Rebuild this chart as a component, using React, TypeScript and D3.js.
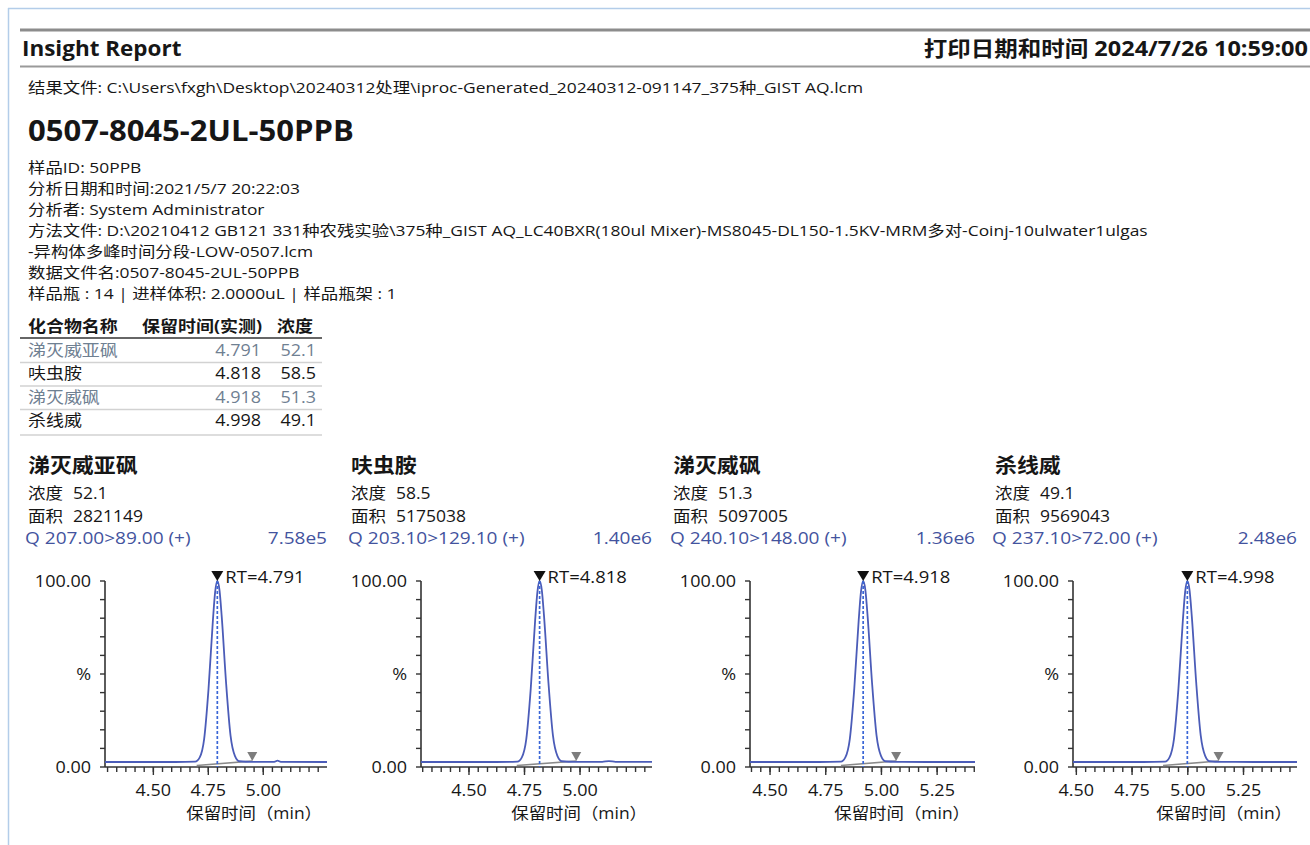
import React from "react";
import * as d3 from "d3";

// ---------- data ----------
const compounds = ["涕灭威亚砜", "呋虫胺", "涕灭威砜", "杀线威"];
const retentionTimes = [4.791, 4.818, 4.918, 4.998];
const concentrations = [52.1, 58.5, 51.3, 49.1];
const areas = [2821149, 5175038, 5097005, 9569043];
const transitions = ["Q 207.00>89.00 (+)", "Q 203.10>129.10 (+)", "Q 240.10>148.00 (+)", "Q 237.10>72.00 (+)"];
const maxIntensities = ["7.58e5", "1.40e6", "1.36e6", "2.48e6"];
const timeDomains: [number, number][] = [[4.28, 5.29], [4.284, 5.324], [4.41, 5.42], [4.485, 5.49]];
const majorTickValues = [[4.5, 4.75, 5.0], [4.5, 4.75, 5.0], [4.5, 4.75, 5.0, 5.25], [4.5, 4.75, 5.0, 5.25]];
const peakStarts = [4.697, 4.715, 4.818, 4.889];
const peakEnds = [4.95, 4.983, 5.066, 5.138];
const yLabels = [{ v: 100, t: "100.00" }, { v: 50, t: "%" }, { v: 0, t: "0.00" }];

const trace1: [number, number][] = [
  [4.28, 2.7], [4.45, 2.7], [4.6, 2.7], [4.69, 2.9], [4.711, 5.2], [4.731, 15], [4.751, 42], [4.771, 79],
  [4.781, 94], [4.791, 100], [4.801, 95], [4.811, 81], [4.831, 45], [4.851, 17], [4.871, 6], [4.891, 3.1],
  [4.95, 2.8], [5.05, 2.8], [5.065, 3.4], [5.08, 2.8], [5.29, 2.7],
];
const trace2: [number, number][] = [
  [4.284, 2.7], [4.45, 2.7], [4.62, 2.7], [4.718, 2.9], [4.738, 5.2], [4.758, 15], [4.778, 42], [4.798, 79],
  [4.808, 94], [4.818, 100], [4.828, 95], [4.838, 81], [4.858, 45], [4.878, 17], [4.898, 6], [4.918, 3.1],
  [4.98, 2.8], [5.1, 2.8], [5.13, 3.2], [5.16, 2.8], [5.324, 2.8],
];
const trace3: [number, number][] = [
  [4.41, 2.7], [4.55, 2.7], [4.72, 2.7], [4.818, 2.9], [4.838, 5.2], [4.858, 15], [4.878, 42], [4.898, 79],
  [4.908, 94], [4.918, 100], [4.928, 95], [4.938, 81], [4.958, 45], [4.978, 17], [4.998, 6], [5.018, 3.1],
  [5.07, 2.8], [5.2, 2.7], [5.42, 2.7],
];
const trace4: [number, number][] = [
  [4.485, 2.7], [4.6, 2.7], [4.8, 2.7], [4.898, 2.9], [4.918, 5.2], [4.938, 15], [4.958, 42], [4.978, 79],
  [4.988, 94], [4.998, 100], [5.008, 95], [5.018, 81], [5.038, 45], [5.058, 17], [5.078, 6], [5.098, 3.1],
  [5.15, 2.8], [5.3, 2.7], [5.49, 2.7],
];
const traces = [trace1, trace2, trace3, trace4];

const resultFile = "结果文件: C:\\Users\\fxgh\\Desktop\\20240312处理\\iproc-Generated_20240312-091147_375种_GIST AQ.lcm";
const infoLines = [
  "样品ID: 50PPB",
  "分析日期和时间:2021/5/7 20:22:03",
  "分析者: System Administrator",
  "方法文件: D:\\20210412 GB121 331种农残实验\\375种_GIST AQ_LC40BXR(180ul Mixer)-MS8045-DL150-1.5KV-MRM多对-Coinj-10ulwater1ulgas",
  "-异构体多峰时间分段-LOW-0507.lcm",
  "数据文件名:0507-8045-2UL-50PPB",
  "样品瓶 : 14 | 进样体积: 2.0000uL | 样品瓶架 : 1",
];
const tableHeaders = ["化合物名称", "保留时间(实测)", "浓度"];

// ---------- layout ----------
const FONT = "'Open Sans','Noto Sans CJK SC',sans-serif";
const panelLefts = [28, 351, 673, 995];
const axisLefts = [105, 421, 750, 1073];
const axisRights = [327, 652, 975, 1297];
const Y_TOP = 581;
const Y_BOT = 767;
const TRACE = "#4b5cb8";
const QBLUE = "#43539e";
const INK = "#161616";

type STProps = {
  x: number; y: number; size: number; sx?: number; anchor?: "start" | "middle" | "end";
  fill?: string; bold?: boolean; children: React.ReactNode;
};
// text slightly widened horizontally (the report's font is wide and short)
function ST({ x, y, size, sx = 1, anchor = "start", fill = INK, bold = false, children }: STProps) {
  return (
    <text
      transform={`translate(${x},${y}) scale(${sx},1)`}
      fontSize={size}
      fontWeight={bold ? "bold" : "normal"}
      fill={fill}
      textAnchor={anchor}
      dominantBaseline="central"
    >
      {children}
    </text>
  );
}

function Panel({ i }: { i: number }) {
  const x = d3.scaleLinear().domain(timeDomains[i]).range([axisLefts[i], axisRights[i]]);
  const y = d3.scaleLinear().domain([0, 100]).range([Y_BOT, Y_TOP]);
  const line = d3.line<[number, number]>().x((d) => x(d[0])).y((d) => y(d[1])).curve(d3.curveMonotoneX);
  const step = 0.25 / 6;
  const [t0, t1] = timeDomains[i];
  const minor = d3.range(Math.ceil(t0 / step - 1e-6), Math.floor(t1 / step + 1e-6) + 1).map((k) => k * step);
  const yTicks = d3.range(0, 101, 10);
  const left = panelLefts[i];
  const rt = retentionTimes[i];
  const px = x(rt);
  const py = y(100);
  const ex = x(peakEnds[i]);
  const ey = y(3.2);
  return (
    <g>
      <ST x={left} y={465} size={20.5} sx={1.07} bold>{compounds[i]}</ST>
      <ST x={left} y={493} size={15.5} sx={1.13}>浓度</ST>
      <ST x={left + 45} y={493} size={15.5} sx={1.13}>{concentrations[i].toFixed(1)}</ST>
      <ST x={left} y={516} size={15.5} sx={1.13}>面积</ST>
      <ST x={left + 45} y={516} size={15.5} sx={1.13}>{areas[i]}</ST>
      <ST x={left - 3} y={538} size={16} sx={1.19} fill={QBLUE}>{transitions[i]}</ST>
      <ST x={axisRights[i]} y={538} size={16} sx={1.19} fill={QBLUE} anchor="end">{maxIntensities[i]}</ST>

      {/* y axis */}
      <line x1={axisLefts[i]} x2={axisLefts[i]} y1={Y_TOP} y2={Y_BOT} stroke="#333" strokeWidth={1.6} />
      {yTicks.map((v) => (
        <line key={v} x1={axisLefts[i] - 5} x2={axisLefts[i]} y1={y(v)} y2={y(v)} stroke="#333" strokeWidth={1.4} />
      ))}
      {yLabels.map((l) => (
        <ST key={l.t} x={axisLefts[i] - 14} y={y(l.v)} size={16.5} sx={1.09} anchor="end">{l.t}</ST>
      ))}

      {/* x axis */}
      <line x1={axisLefts[i]} x2={axisRights[i]} y1={Y_BOT} y2={Y_BOT} stroke="#333" strokeWidth={1.6} />
      {minor.map((t) => (
        <line key={t} x1={x(t)} x2={x(t)} y1={Y_BOT} y2={Y_BOT + 5} stroke="#333" strokeWidth={1.4} />
      ))}
      {majorTickValues[i].map((t) => (
        <g key={t}>
          <line x1={x(t)} x2={x(t)} y1={Y_BOT} y2={Y_BOT + 8} stroke="#333" strokeWidth={1.4} />
          <ST x={x(t)} y={790} size={16.5} sx={1.09} anchor="middle">{t.toFixed(2)}</ST>
        </g>
      ))}
      <ST x={axisRights[i] - 5} y={813} size={16} sx={1.09} anchor="end">保留时间（min）</ST>

      {/* integration baseline */}
      <line x1={x(peakStarts[i])} y1={y(0.8)} x2={ex} y2={ey} stroke="#8a8a8a" strokeWidth={1.6} />
      {/* trace */}
      <path d={line(traces[i]) || ""} fill="none" stroke={TRACE} strokeWidth={1.8} />
      {/* RT dashed line */}
      <line x1={px} x2={px} y1={py} y2={Y_BOT} stroke="#3a66d6" strokeWidth={1.7} strokeDasharray="3,2" />
      {/* peak marker */}
      <path d={`M${px - 6},${py - 10} L${px + 6},${py - 10} L${px},${py} Z`} fill="#111" />
      <ST x={px + 8} y={py - 5} size={16.5} sx={1.12}>{`RT=${rt.toFixed(3)}`}</ST>
      {/* end marker */}
      <path d={`M${ex - 5},${ey - 9} L${ex + 5},${ey - 9} L${ex},${ey} Z`} fill="#7d7d7d" />
    </g>
  );
}

export default function App() {
  const tableRows = compounds.map((c, i) => ({ name: c, rt: retentionTimes[i].toFixed(3), conc: concentrations[i].toFixed(1) }));
  const rowY = [350, 373, 397, 420];
  const sepY = [362.5, 386, 409.5, 435];
  return (
    <div style={{ position: "absolute", left: 0, top: 0 }}>
      <svg width={1310} height={845} style={{ display: "block", fontFamily: FONT }}>
        <rect x={0} y={0} width={1310} height={845} fill="#fff" />
        {/* frame */}
        <line x1={8} x2={1310} y1={8.5} y2={8.5} stroke="#b3cde9" strokeWidth={1.5} />
        <line x1={8.5} x2={8.5} y1={8} y2={845} stroke="#b3cde9" strokeWidth={1.5} />

        {/* header */}
        <line x1={20} x2={1310} y1={30} y2={30} stroke="#8c8c8c" strokeWidth={3} />
        <ST x={22} y={48} size={21} sx={1.07} bold>Insight Report</ST>
        <ST x={1308} y={48} size={21} sx={1.12} bold anchor="end">打印日期和时间 2024/7/26 10:59:00</ST>
        <line x1={20} x2={1310} y1={66.5} y2={66.5} stroke="#9a9a9a" strokeWidth={2} />
        <ST x={28} y={88} size={14.5} sx={1.2}>{resultFile}</ST>
        <ST x={28} y={130} size={29} sx={1.07} bold>0507-8045-2UL-50PPB</ST>
        {infoLines.map((l, k) => (
          <ST key={k} x={28} y={168 + k * 20.9} size={14.5} sx={1.2}>{l}</ST>
        ))}

        {/* table */}
        <ST x={28} y={326} size={15.5} sx={1.16} bold>{tableHeaders[0]}</ST>
        <ST x={262} y={326} size={15.5} sx={1.16} bold anchor="end">{tableHeaders[1]}</ST>
        <ST x={277} y={326} size={15.5} sx={1.16} bold>{tableHeaders[2]}</ST>
        <line x1={20} x2={322} y1={338} y2={338} stroke="#666" strokeWidth={2.2} />
        {tableRows.map((r, k) => {
          const col = k % 2 === 0 ? "#6f8092" : INK;
          return (
            <g key={k}>
              <ST x={28} y={rowY[k]} size={15.5} sx={1.16} fill={col}>{r.name}</ST>
              <ST x={261} y={rowY[k]} size={15.5} sx={1.16} fill={col} anchor="end">{r.rt}</ST>
              <ST x={316} y={rowY[k]} size={15.5} sx={1.16} fill={col} anchor="end">{r.conc}</ST>
              <line x1={20} x2={322} y1={sepY[k]} y2={sepY[k]} stroke="#d2d2d2" strokeWidth={1.6} />
            </g>
          );
        })}

        {compounds.map((_, i) => (
          <Panel key={i} i={i} />
        ))}
      </svg>
    </div>
  );
}
